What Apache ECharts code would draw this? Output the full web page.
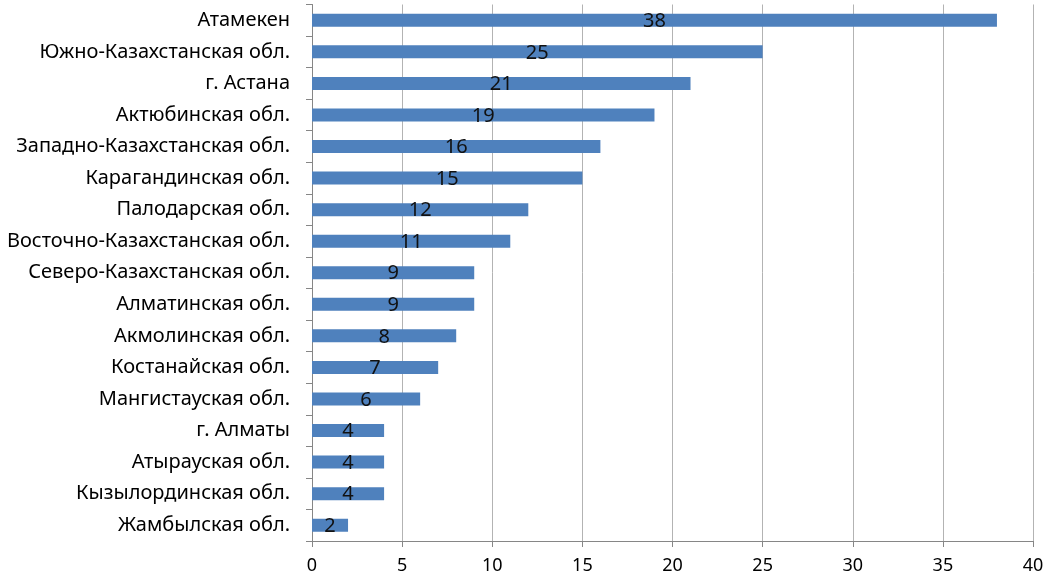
<!DOCTYPE html>
<html>
<head>
<meta charset="utf-8">
<script src="https://cdn.jsdelivr.net/npm/echarts@6/dist/echarts.min.js"></script>
<style>
html,body{margin:0;padding:0;background:#fff;}
#c{width:1054px;height:579px;}
</style>
</head>
<body>
<div id="c"></div>
<script>
const categories = [
  'Атамекен',
  'Южно-Казахстанская обл.',
  'г. Астана',
  'Актюбинская обл.',
  'Западно-Казахстанская обл.',
  'Карагандинская обл.',
  'Палодарская обл.',
  'Восточно-Казахстанская обл.',
  'Северо-Казахстанская обл.',
  'Алматинская обл.',
  'Акмолинская обл.',
  'Костанайская обл.',
  'Мангистауская обл.',
  'г. Алматы',
  'Атырауская обл.',
  'Кызылординская обл.',
  'Жамбылская обл.'
];
const values = [38, 25, 21, 19, 16, 15, 12, 11, 9, 9, 8, 7, 6, 4, 4, 4, 2];
const xTicks = { min: 0, max: 40, interval: 5 };

const chart = echarts.init(document.getElementById('c'));
const font = 'Noto Sans';
chart.setOption({
  animation: false,
  grid: { left: 312, right: 21, top: 4.5, bottom: 38, containLabel: false },
  xAxis: {
    type: 'value',
    min: xTicks.min, max: xTicks.max, interval: xTicks.interval,
    axisLine: { show: true, lineStyle: { color: '#868686', width: 1 } },
    axisTick: { show: true, length: 6, lineStyle: { color: '#868686' } },
    axisLabel: { margin: 16, color: '#000', fontFamily: font, fontSize: 18 },
    splitLine: { show: true, lineStyle: { color: '#B3B3B3', width: 1 } }
  },
  yAxis: {
    type: 'category',
    data: categories,
    inverse: true,
    axisLine: { show: true, lineStyle: { color: '#868686', width: 1 } },
    axisTick: { show: true, length: 6, alignWithLabel: false, lineStyle: { color: '#868686' } },
    axisLabel: { margin: 22, color: '#000', fontFamily: font, fontSize: 20 },
    splitLine: { show: false }
  },
  series: [{
    type: 'bar',
    data: values,
    barWidth: 13,
    itemStyle: { color: '#4F81BD' },
    label: {
      show: true, position: 'inside', color: '#111',
      fontFamily: font, fontSize: 20, offset: [0, 1]
    }
  }]
});
</script>
</body>
</html>
